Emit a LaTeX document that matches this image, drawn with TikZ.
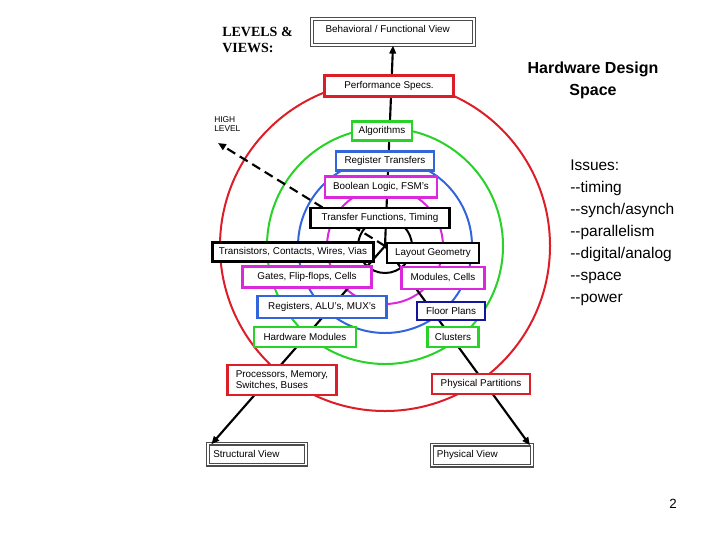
\documentclass[tikz,border=0pt]{standalone}
\usepackage{fontspec}
\setmainfont{Liberation Sans}
\newfontfamily\timesf{Liberation Serif}
\usetikzlibrary{arrows.meta}
\definecolor{rr}{RGB}{220,30,40}
\definecolor{gg}{RGB}{40,210,40}
\definecolor{bb}{RGB}{50,100,220}
\definecolor{mm}{RGB}{220,40,220}
\definecolor{nv}{RGB}{20,20,160}
\newcommand\pxx[1]{\the\dimexpr #1pt*3/4\relax}
\begin{document}
\begin{tikzpicture}[x=0.75pt,y=-0.75pt,
 bx/.style={draw,fill=white,line width=1.6pt,inner sep=0pt,font=\fontsize{7.4}{8.6}\selectfont,align=left},
 vw/.style={bx,draw=black!70,double=white,double distance=1.2pt,line width=0.9pt},
 ring/.style={line width=1.5pt},
 ln/.style={line width=1.6pt},
 tip/.style={-{Triangle[length=6pt,width=5pt]}}]
\useasboundingbox (0,0) rectangle (720,540);
\coordinate (C) at (385,246);
\draw[ring,rr] (C) circle (165);
\draw[ring,gg] (C) circle (118);
\draw[ring,bb] (C) circle (87);
\draw[ring,mm] (C) circle (58);
\draw[ring,black] (C) circle (27);
% boxes
\node[vw,minimum width=\pxx{162},minimum height=\pxx{26}] (bv) at (393,32) {\raisebox{4pt}{Behavioral / Functional View}\hspace*{8pt}};
\node[vw,minimum width=\pxx{98},minimum height=\pxx{21}] (sv) at (257,454) {Structural View\hspace*{16pt}};
\node[vw,minimum width=\pxx{100},minimum height=\pxx{21}] (pv) at (482,455) {Physical View\hspace*{22pt}};
\draw[ln,tip] (C) -- (bv.south);
\draw[ln,tip] (C) -- ([xshift=3pt,yshift=-1pt]sv.north west);
\draw[ln,tip] (C) -- ([xshift=-2pt,yshift=-1pt]pv.north east);
\coordinate (hl) at (218,143);
\draw[ln,dash pattern=on 7pt off 4pt,tip] (C) -- (hl);
\node[bx,draw=rr,minimum width=\pxx{129},minimum height=\pxx{21}] (ps) at (389,86) {Performance Specs.};
\node[bx,draw=gg,minimum width=\pxx{60},minimum height=\pxx{19}] (al) at (382,131) {Algorithms};
\node[bx,draw=bb,minimum width=\pxx{98},minimum height=\pxx{19}] (rt) at (385,161) {Register Transfers};
\node[bx,draw=mm,minimum width=\pxx{112},minimum height=\pxx{21}] (bl) at (381,187) {Boolean Logic, FSM's};
\node[bx,minimum width=\pxx{139},minimum height=\pxx{20}] (tf) at (380,218) {Transfer Functions, Timing};
\node[bx,minimum width=\pxx{161},minimum height=\pxx{19}] (tc) at (293,252) {Transistors, Contacts, Wires, Vias};
\node[bx,minimum width=\pxx{92},minimum height=\pxx{20}] (lg) at (433,253) {Layout Geometry};
\node[bx,draw=mm,minimum width=\pxx{129},minimum height=\pxx{21}] (gf) at (307,277) {Gates, Flip-flops, Cells};
\node[bx,draw=mm,minimum width=\pxx{83},minimum height=\pxx{22}] (mc) at (443,278) {Modules, Cells};
\node[bx,draw=bb,minimum width=\pxx{129},minimum height=\pxx{22}] (ra) at (322,307) {Registers, ALU's, MUX's};
\node[bx,draw=nv,minimum width=\pxx{68},minimum height=\pxx{18}] (fp) at (451,311) {Floor Plans};
\node[bx,draw=gg,minimum width=\pxx{102},minimum height=\pxx{20}] (hm) at (305,337) {Hardware Modules};
\node[bx,draw=gg,minimum width=\pxx{51},minimum height=\pxx{20}] (cl) at (453,337) {Clusters};
\node[bx,draw=rr,minimum width=\pxx{109},minimum height=\pxx{30}] (pm) at (282,380) {Processors, Memory,\\Switches, Buses};
\node[bx,draw=rr,minimum width=\pxx{98},minimum height=\pxx{20}] (pp) at (481,384) {Physical Partitions};
% texts
\node[font=\timesf\bfseries\fontsize{10.5}{12}\selectfont,align=left,anchor=north west,inner sep=0pt] (lv) at (222,27) {LEVELS \&\\VIEWS:};
\node[font=\fontsize{6.3}{7}\selectfont,align=left,anchor=north west,inner sep=0pt] (hlt) at (214,116) {HIGH\\LEVEL};
\node[font=\bfseries\fontsize{12}{16.5}\selectfont,align=center] (hd) at (593,80) {Hardware Design\\Space};
\node[font=\fontsize{11.6}{16.5}\selectfont,align=left,anchor=north west,inner sep=0pt] (is) at (570,160) {Issues:\\{-}{-}timing\\{-}{-}synch/asynch\\{-}{-}parallelism\\{-}{-}digital/analog\\{-}{-}space\\{-}{-}power};
\node[font=\fontsize{10}{12}\selectfont] (pg) at (673,504) {2};
\end{tikzpicture}
\end{document}
